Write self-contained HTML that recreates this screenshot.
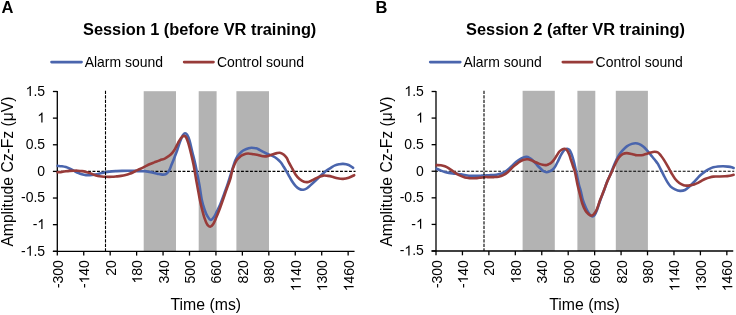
<!DOCTYPE html>
<html><head><meta charset="utf-8"><style>
html,body{margin:0;padding:0;background:#fff;}
svg{display:block;will-change:transform;filter:blur(0.3px);}
</style></head><body>
<svg width="736" height="315" viewBox="0 0 736 315">
<rect width="736" height="315" fill="#fff"/>
<text x="1.6" y="12.7" font-size="16.5" font-weight="bold" font-family="'Liberation Sans', sans-serif">A</text>
<text x="375.4" y="12.8" font-size="16.5" font-weight="bold" font-family="'Liberation Sans', sans-serif">B</text>
<rect x="143.7" y="91.2" width="32.30" height="160.10" fill="#B3B3B3"/>
<rect x="198.7" y="91.2" width="17.90" height="160.10" fill="#B3B3B3"/>
<rect x="236.4" y="91.2" width="32.60" height="160.10" fill="#B3B3B3"/>
<line x1="57.30" y1="91.10" x2="57.30" y2="251.90" stroke="#000" stroke-width="1.3"/>
<line x1="52.90" y1="251.30" x2="354.54" y2="251.30" stroke="#000" stroke-width="1.3"/>
<line x1="52.90" y1="91.50" x2="57.30" y2="91.50" stroke="#000" stroke-width="1.3"/>
<g transform="translate(45.10,95.90)"><path d="M-14.25,0.00 L-15.48,0.00 L-15.48,-7.84 Q-16.25,-7.11 -17.94,-6.36 L-17.94,-7.55 Q-16.18,-8.41 -15.05,-10.02 L-14.25,-10.02 Z" fill="#000"/><text x="-11.68" y="0" font-size="14" font-family="'Liberation Sans', sans-serif">.</text><text x="-7.79" y="0" font-size="14" font-family="'Liberation Sans', sans-serif">5</text></g>
<line x1="52.90" y1="118.13" x2="57.30" y2="118.13" stroke="#000" stroke-width="1.3"/>
<g transform="translate(45.10,122.53)"><path d="M-2.57,0.00 L-3.80,0.00 L-3.80,-7.84 Q-4.57,-7.11 -6.27,-6.36 L-6.27,-7.55 Q-4.50,-8.41 -3.37,-10.02 L-2.57,-10.02 Z" fill="#000"/></g>
<line x1="52.90" y1="144.77" x2="57.30" y2="144.77" stroke="#000" stroke-width="1.3"/>
<g transform="translate(45.10,149.17)"><text x="-19.46" y="0" font-size="14" font-family="'Liberation Sans', sans-serif">0</text><text x="-11.68" y="0" font-size="14" font-family="'Liberation Sans', sans-serif">.</text><text x="-7.79" y="0" font-size="14" font-family="'Liberation Sans', sans-serif">5</text></g>
<line x1="52.90" y1="171.40" x2="57.30" y2="171.40" stroke="#000" stroke-width="1.3"/>
<g transform="translate(45.10,175.80)"><text x="-7.79" y="0" font-size="14" font-family="'Liberation Sans', sans-serif">0</text></g>
<line x1="52.90" y1="198.03" x2="57.30" y2="198.03" stroke="#000" stroke-width="1.3"/>
<g transform="translate(45.10,202.43)"><text x="-24.12" y="0" font-size="14" font-family="'Liberation Sans', sans-serif">-</text><text x="-19.46" y="0" font-size="14" font-family="'Liberation Sans', sans-serif">0</text><text x="-11.68" y="0" font-size="14" font-family="'Liberation Sans', sans-serif">.</text><text x="-7.79" y="0" font-size="14" font-family="'Liberation Sans', sans-serif">5</text></g>
<line x1="52.90" y1="224.67" x2="57.30" y2="224.67" stroke="#000" stroke-width="1.3"/>
<g transform="translate(45.10,229.07)"><text x="-12.45" y="0" font-size="14" font-family="'Liberation Sans', sans-serif">-</text><path d="M-2.57,0.00 L-3.80,0.00 L-3.80,-7.84 Q-4.57,-7.11 -6.27,-6.36 L-6.27,-7.55 Q-4.50,-8.41 -3.37,-10.02 L-2.57,-10.02 Z" fill="#000"/></g>
<line x1="52.90" y1="251.30" x2="57.30" y2="251.30" stroke="#000" stroke-width="1.3"/>
<g transform="translate(45.10,255.70)"><text x="-24.12" y="0" font-size="14" font-family="'Liberation Sans', sans-serif">-</text><path d="M-14.25,0.00 L-15.48,0.00 L-15.48,-7.84 Q-16.25,-7.11 -17.94,-6.36 L-17.94,-7.55 Q-16.18,-8.41 -15.05,-10.02 L-14.25,-10.02 Z" fill="#000"/><text x="-11.68" y="0" font-size="14" font-family="'Liberation Sans', sans-serif">.</text><text x="-7.79" y="0" font-size="14" font-family="'Liberation Sans', sans-serif">5</text></g>
<line x1="57.30" y1="251.30" x2="57.30" y2="255.60" stroke="#000" stroke-width="1.3"/>
<g transform="translate(62.80,260.10) rotate(-90)"><text x="-28.02" y="0" font-size="14" font-family="'Liberation Sans', sans-serif">-</text><text x="-23.36" y="0" font-size="14" font-family="'Liberation Sans', sans-serif">3</text><text x="-15.57" y="0" font-size="14" font-family="'Liberation Sans', sans-serif">0</text><text x="-7.79" y="0" font-size="14" font-family="'Liberation Sans', sans-serif">0</text></g>
<line x1="83.74" y1="251.30" x2="83.74" y2="255.60" stroke="#000" stroke-width="1.3"/>
<g transform="translate(89.24,260.10) rotate(-90)"><text x="-28.02" y="0" font-size="14" font-family="'Liberation Sans', sans-serif">-</text><path d="M-18.14,0.00 L-19.37,0.00 L-19.37,-7.84 Q-20.15,-7.11 -21.84,-6.36 L-21.84,-7.55 Q-20.08,-8.41 -18.94,-10.02 L-18.14,-10.02 Z" fill="#000"/><text x="-15.57" y="0" font-size="14" font-family="'Liberation Sans', sans-serif">4</text><text x="-7.79" y="0" font-size="14" font-family="'Liberation Sans', sans-serif">0</text></g>
<line x1="110.18" y1="251.30" x2="110.18" y2="255.60" stroke="#000" stroke-width="1.3"/>
<g transform="translate(115.68,260.10) rotate(-90)"><text x="-15.57" y="0" font-size="14" font-family="'Liberation Sans', sans-serif">2</text><text x="-7.79" y="0" font-size="14" font-family="'Liberation Sans', sans-serif">0</text></g>
<line x1="136.62" y1="251.30" x2="136.62" y2="255.60" stroke="#000" stroke-width="1.3"/>
<g transform="translate(142.12,260.10) rotate(-90)"><path d="M-18.14,0.00 L-19.37,0.00 L-19.37,-7.84 Q-20.15,-7.11 -21.84,-6.36 L-21.84,-7.55 Q-20.08,-8.41 -18.94,-10.02 L-18.14,-10.02 Z" fill="#000"/><text x="-15.57" y="0" font-size="14" font-family="'Liberation Sans', sans-serif">8</text><text x="-7.79" y="0" font-size="14" font-family="'Liberation Sans', sans-serif">0</text></g>
<line x1="163.06" y1="251.30" x2="163.06" y2="255.60" stroke="#000" stroke-width="1.3"/>
<g transform="translate(168.56,260.10) rotate(-90)"><text x="-23.36" y="0" font-size="14" font-family="'Liberation Sans', sans-serif">3</text><text x="-15.57" y="0" font-size="14" font-family="'Liberation Sans', sans-serif">4</text><text x="-7.79" y="0" font-size="14" font-family="'Liberation Sans', sans-serif">0</text></g>
<line x1="189.50" y1="251.30" x2="189.50" y2="255.60" stroke="#000" stroke-width="1.3"/>
<g transform="translate(195.00,260.10) rotate(-90)"><text x="-23.36" y="0" font-size="14" font-family="'Liberation Sans', sans-serif">5</text><text x="-15.57" y="0" font-size="14" font-family="'Liberation Sans', sans-serif">0</text><text x="-7.79" y="0" font-size="14" font-family="'Liberation Sans', sans-serif">0</text></g>
<line x1="215.94" y1="251.30" x2="215.94" y2="255.60" stroke="#000" stroke-width="1.3"/>
<g transform="translate(221.44,260.10) rotate(-90)"><text x="-23.36" y="0" font-size="14" font-family="'Liberation Sans', sans-serif">6</text><text x="-15.57" y="0" font-size="14" font-family="'Liberation Sans', sans-serif">6</text><text x="-7.79" y="0" font-size="14" font-family="'Liberation Sans', sans-serif">0</text></g>
<line x1="242.38" y1="251.30" x2="242.38" y2="255.60" stroke="#000" stroke-width="1.3"/>
<g transform="translate(247.88,260.10) rotate(-90)"><text x="-23.36" y="0" font-size="14" font-family="'Liberation Sans', sans-serif">8</text><text x="-15.57" y="0" font-size="14" font-family="'Liberation Sans', sans-serif">2</text><text x="-7.79" y="0" font-size="14" font-family="'Liberation Sans', sans-serif">0</text></g>
<line x1="268.82" y1="251.30" x2="268.82" y2="255.60" stroke="#000" stroke-width="1.3"/>
<g transform="translate(274.32,260.10) rotate(-90)"><text x="-23.36" y="0" font-size="14" font-family="'Liberation Sans', sans-serif">9</text><text x="-15.57" y="0" font-size="14" font-family="'Liberation Sans', sans-serif">8</text><text x="-7.79" y="0" font-size="14" font-family="'Liberation Sans', sans-serif">0</text></g>
<line x1="295.26" y1="251.30" x2="295.26" y2="255.60" stroke="#000" stroke-width="1.3"/>
<g transform="translate(300.76,260.10) rotate(-90)"><path d="M-25.93,0.00 L-27.16,0.00 L-27.16,-7.84 Q-27.93,-7.11 -29.63,-6.36 L-29.63,-7.55 Q-27.86,-8.41 -26.73,-10.02 L-25.93,-10.02 Z" fill="#000"/><path d="M-18.14,0.00 L-19.37,0.00 L-19.37,-7.84 Q-20.15,-7.11 -21.84,-6.36 L-21.84,-7.55 Q-20.08,-8.41 -18.94,-10.02 L-18.14,-10.02 Z" fill="#000"/><text x="-15.57" y="0" font-size="14" font-family="'Liberation Sans', sans-serif">4</text><text x="-7.79" y="0" font-size="14" font-family="'Liberation Sans', sans-serif">0</text></g>
<line x1="321.70" y1="251.30" x2="321.70" y2="255.60" stroke="#000" stroke-width="1.3"/>
<g transform="translate(327.20,260.10) rotate(-90)"><path d="M-25.93,0.00 L-27.16,0.00 L-27.16,-7.84 Q-27.93,-7.11 -29.63,-6.36 L-29.63,-7.55 Q-27.86,-8.41 -26.73,-10.02 L-25.93,-10.02 Z" fill="#000"/><text x="-23.36" y="0" font-size="14" font-family="'Liberation Sans', sans-serif">3</text><text x="-15.57" y="0" font-size="14" font-family="'Liberation Sans', sans-serif">0</text><text x="-7.79" y="0" font-size="14" font-family="'Liberation Sans', sans-serif">0</text></g>
<line x1="348.14" y1="251.30" x2="348.14" y2="255.60" stroke="#000" stroke-width="1.3"/>
<g transform="translate(353.64,260.10) rotate(-90)"><path d="M-25.93,0.00 L-27.16,0.00 L-27.16,-7.84 Q-27.93,-7.11 -29.63,-6.36 L-29.63,-7.55 Q-27.86,-8.41 -26.73,-10.02 L-25.93,-10.02 Z" fill="#000"/><text x="-23.36" y="0" font-size="14" font-family="'Liberation Sans', sans-serif">4</text><text x="-15.57" y="0" font-size="14" font-family="'Liberation Sans', sans-serif">6</text><text x="-7.79" y="0" font-size="14" font-family="'Liberation Sans', sans-serif">0</text></g>
<line x1="57.3" y1="171.40" x2="355.54" y2="171.40" stroke="#000" stroke-width="1.1" stroke-dasharray="2.9 1.6" stroke-dashoffset="0.8"/>
<path d="M57.60,165.90 C58.32,165.97 60.52,166.10 61.90,166.30 C63.28,166.50 64.57,166.70 65.90,167.10 C67.23,167.50 68.58,168.10 69.90,168.70 C71.22,169.30 72.48,170.03 73.80,170.70 C75.12,171.37 76.47,172.10 77.80,172.70 C79.13,173.30 80.43,173.90 81.80,174.30 C83.17,174.70 84.65,174.97 86.00,175.10 C87.35,175.23 88.58,175.17 89.90,175.10 C91.22,175.03 92.57,174.90 93.90,174.70 C95.23,174.50 96.58,174.17 97.90,173.90 C99.22,173.63 100.48,173.37 101.80,173.10 C103.12,172.83 104.10,172.58 105.80,172.30 C107.50,172.02 110.18,171.60 112.00,171.40 C113.82,171.20 115.03,171.18 116.70,171.10 C118.37,171.02 120.15,170.95 122.00,170.90 C123.85,170.85 125.63,170.80 127.80,170.80 C129.97,170.80 132.97,170.82 135.00,170.90 C137.03,170.98 138.37,171.27 140.00,171.30 C141.63,171.33 143.22,171.00 144.80,171.10 C146.38,171.20 147.92,171.60 149.50,171.90 C151.08,172.20 152.72,172.53 154.30,172.90 C155.88,173.27 157.63,173.82 159.00,174.10 C160.37,174.38 161.42,174.57 162.50,174.60 C163.58,174.63 164.62,174.67 165.50,174.30 C166.38,173.93 167.13,173.13 167.80,172.40 C168.47,171.67 168.90,171.12 169.50,169.90 C170.10,168.68 170.77,166.68 171.40,165.10 C172.03,163.52 172.67,161.98 173.30,160.40 C173.93,158.82 174.57,157.23 175.20,155.60 C175.83,153.97 176.30,152.90 177.10,150.60 C177.90,148.30 179.03,144.38 180.00,141.80 C180.97,139.22 182.07,136.53 182.90,135.10 C183.73,133.67 184.30,133.27 185.00,133.20 C185.70,133.13 186.35,133.50 187.10,134.70 C187.85,135.90 188.63,137.52 189.50,140.40 C190.37,143.28 191.30,147.90 192.30,152.00 C193.30,156.10 194.32,159.50 195.50,165.00 C196.68,170.50 198.37,179.25 199.40,185.00 C200.43,190.75 200.85,195.42 201.70,199.50 C202.55,203.58 203.55,206.72 204.50,209.50 C205.45,212.28 206.37,214.45 207.40,216.20 C208.43,217.95 209.60,219.85 210.70,220.00 C211.80,220.15 212.97,218.53 214.00,217.10 C215.03,215.67 215.85,213.55 216.90,211.40 C217.95,209.25 219.13,207.00 220.30,204.20 C221.47,201.40 222.72,197.80 223.90,194.60 C225.08,191.40 226.32,188.18 227.40,185.00 C228.48,181.82 229.60,178.03 230.40,175.50 C231.20,172.97 231.62,171.67 232.20,169.80 C232.78,167.93 233.32,166.00 233.90,164.30 C234.48,162.60 235.10,160.93 235.70,159.60 C236.30,158.27 236.57,157.57 237.50,156.30 C238.43,155.03 240.03,153.12 241.30,152.00 C242.57,150.88 243.98,150.18 245.10,149.60 C246.22,149.02 246.95,148.80 248.00,148.50 C249.05,148.20 250.03,147.83 251.40,147.80 C252.77,147.77 255.10,148.10 256.20,148.30 C257.30,148.50 256.90,148.45 258.00,149.00 C259.10,149.55 261.22,150.77 262.80,151.60 C264.38,152.43 265.92,153.28 267.50,154.00 C269.08,154.72 270.72,155.12 272.30,155.90 C273.88,156.68 275.57,157.60 277.00,158.70 C278.43,159.80 279.78,161.15 280.90,162.50 C282.02,163.85 282.75,165.28 283.70,166.80 C284.65,168.32 285.77,170.18 286.60,171.60 C287.43,173.02 287.82,173.73 288.70,175.30 C289.58,176.87 290.73,179.20 291.90,181.00 C293.07,182.80 294.43,184.77 295.70,186.10 C296.97,187.43 298.23,188.40 299.50,189.00 C300.77,189.60 302.12,189.78 303.30,189.70 C304.48,189.62 305.47,189.18 306.60,188.50 C307.73,187.82 308.55,186.97 310.10,185.60 C311.65,184.23 314.07,182.02 315.90,180.30 C317.73,178.58 319.38,176.88 321.10,175.30 C322.82,173.72 324.53,172.08 326.20,170.80 C327.87,169.52 329.63,168.50 331.10,167.60 C332.57,166.70 333.68,165.95 335.00,165.40 C336.32,164.85 337.65,164.55 339.00,164.30 C340.35,164.05 341.48,163.78 343.10,163.90 C344.72,164.02 347.03,164.35 348.70,165.00 C350.37,165.65 352.37,167.33 353.10,167.80" fill="none" stroke="#4A65AD" stroke-width="2.6" stroke-linejoin="round" stroke-linecap="round"/>
<path d="M57.60,172.30 C58.32,172.23 60.52,172.07 61.90,171.90 C63.28,171.73 64.57,171.47 65.90,171.30 C67.23,171.13 68.58,171.00 69.90,170.90 C71.22,170.80 72.48,170.73 73.80,170.70 C75.12,170.67 76.43,170.63 77.80,170.70 C79.17,170.77 80.63,170.90 82.00,171.10 C83.37,171.30 84.68,171.57 86.00,171.90 C87.32,172.23 88.58,172.63 89.90,173.10 C91.22,173.57 92.57,174.23 93.90,174.70 C95.23,175.17 96.58,175.60 97.90,175.90 C99.22,176.20 100.48,176.35 101.80,176.50 C103.12,176.65 104.10,176.75 105.80,176.80 C107.50,176.85 110.18,176.87 112.00,176.80 C113.82,176.73 115.20,176.55 116.70,176.40 C118.20,176.25 119.52,176.13 121.00,175.90 C122.48,175.67 124.18,175.35 125.60,175.00 C127.02,174.65 128.22,174.27 129.50,173.80 C130.78,173.33 132.08,172.77 133.30,172.20 C134.52,171.63 135.68,170.93 136.80,170.40 C137.92,169.87 138.67,169.62 140.00,169.00 C141.33,168.38 143.22,167.48 144.80,166.70 C146.38,165.92 147.92,165.02 149.50,164.30 C151.08,163.58 152.55,163.08 154.30,162.40 C156.05,161.72 158.25,160.83 160.00,160.20 C161.75,159.57 163.22,159.37 164.80,158.60 C166.38,157.83 168.22,156.60 169.50,155.60 C170.78,154.60 171.55,153.77 172.50,152.60 C173.45,151.43 174.27,150.23 175.20,148.60 C176.13,146.97 177.13,144.57 178.10,142.80 C179.07,141.03 180.05,139.15 181.00,138.00 C181.95,136.85 182.93,135.98 183.80,135.90 C184.67,135.82 185.40,136.12 186.20,137.50 C187.00,138.88 187.80,141.53 188.60,144.20 C189.40,146.87 190.17,150.03 191.00,153.50 C191.83,156.97 192.73,160.58 193.60,165.00 C194.47,169.42 195.40,175.50 196.20,180.00 C197.00,184.50 197.72,188.33 198.40,192.00 C199.08,195.67 199.68,199.08 200.30,202.00 C200.92,204.92 201.40,206.82 202.10,209.50 C202.80,212.18 203.62,215.55 204.50,218.10 C205.38,220.65 206.45,223.37 207.40,224.80 C208.35,226.23 209.25,226.78 210.20,226.70 C211.15,226.62 212.13,225.73 213.10,224.30 C214.07,222.87 215.00,220.40 216.00,218.10 C217.00,215.80 218.25,212.68 219.10,210.50 C219.95,208.32 220.18,207.58 221.10,205.00 C222.02,202.42 223.45,198.28 224.60,195.00 C225.75,191.72 227.05,187.97 228.00,185.30 C228.95,182.63 229.60,181.45 230.30,179.00 C231.00,176.55 231.60,172.78 232.20,170.60 C232.80,168.42 233.32,167.33 233.90,165.90 C234.48,164.47 235.10,163.12 235.70,162.00 C236.30,160.88 236.72,160.13 237.50,159.20 C238.28,158.27 239.45,157.15 240.40,156.40 C241.35,155.65 241.93,155.18 243.20,154.70 C244.47,154.22 246.23,153.57 248.00,153.50 C249.77,153.43 252.13,154.07 253.80,154.30 C255.47,154.53 256.50,154.58 258.00,154.90 C259.50,155.22 261.22,156.00 262.80,156.20 C264.38,156.40 265.92,156.40 267.50,156.10 C269.08,155.80 270.72,154.90 272.30,154.40 C273.88,153.90 275.62,153.35 277.00,153.10 C278.38,152.85 279.45,152.62 280.60,152.90 C281.75,153.18 282.87,153.95 283.90,154.80 C284.93,155.65 286.00,156.77 286.80,158.00 C287.60,159.23 287.75,160.37 288.70,162.20 C289.65,164.03 291.33,166.92 292.50,169.00 C293.67,171.08 294.53,173.02 295.70,174.70 C296.87,176.38 298.12,177.93 299.50,179.10 C300.88,180.27 302.52,181.23 304.00,181.70 C305.48,182.17 306.90,182.22 308.40,181.90 C309.90,181.58 311.25,180.63 313.00,179.80 C314.75,178.97 317.18,177.60 318.90,176.90 C320.62,176.20 321.82,175.77 323.30,175.60 C324.78,175.43 326.32,175.72 327.80,175.90 C329.28,176.08 330.57,176.30 332.20,176.70 C333.83,177.10 335.78,177.93 337.60,178.30 C339.42,178.67 341.25,178.98 343.10,178.90 C344.95,178.82 346.85,178.42 348.70,177.80 C350.55,177.18 353.28,175.63 354.20,175.20" fill="none" stroke="#983B39" stroke-width="2.6" stroke-linejoin="round" stroke-linecap="round"/>
<line x1="105.50" y1="90.70" x2="105.50" y2="251.30" stroke="#000" stroke-width="1.1" stroke-dasharray="3.4 1.1"/>
<text transform="translate(13.00,246.60) rotate(-90)" font-size="15.6" font-family="'Liberation Sans', sans-serif" textLength="150.0" lengthAdjust="spacingAndGlyphs">Amplitude Cz-Fz (μV)</text>
<text x="170.50" y="310.4" font-size="15.6" font-family="'Liberation Sans', sans-serif" textLength="70.6" lengthAdjust="spacingAndGlyphs">Time (ms)</text>
<line x1="51.50" y1="62.1" x2="81.60" y2="62.1" stroke="#4A65AD" stroke-width="2.6" stroke-linecap="round"/>
<text x="84.70" y="66.7" font-size="14.6" font-family="'Liberation Sans', sans-serif" textLength="78.4" lengthAdjust="spacingAndGlyphs">Alarm sound</text>
<line x1="184.10" y1="62.1" x2="213.50" y2="62.1" stroke="#983B39" stroke-width="2.6" stroke-linecap="round"/>
<text x="216.90" y="66.7" font-size="14.6" font-family="'Liberation Sans', sans-serif" textLength="87.2" lengthAdjust="spacingAndGlyphs">Control sound</text>
<text x="83.00" y="34.7" font-size="16" font-weight="bold" font-family="'Liberation Sans', sans-serif" textLength="233.30" lengthAdjust="spacingAndGlyphs">Session 1 (before VR training)</text>
<rect x="522.6" y="90.8" width="32.20" height="160.20" fill="#B3B3B3"/>
<rect x="577.4" y="90.8" width="17.90" height="160.20" fill="#B3B3B3"/>
<rect x="615.8" y="90.8" width="32.10" height="160.20" fill="#B3B3B3"/>
<line x1="436.00" y1="91.10" x2="436.00" y2="251.60" stroke="#000" stroke-width="1.3"/>
<line x1="431.60" y1="251.00" x2="733.24" y2="251.00" stroke="#000" stroke-width="1.3"/>
<line x1="431.60" y1="91.50" x2="436.00" y2="91.50" stroke="#000" stroke-width="1.3"/>
<g transform="translate(423.80,95.90)"><path d="M-14.25,0.00 L-15.48,0.00 L-15.48,-7.84 Q-16.25,-7.11 -17.94,-6.36 L-17.94,-7.55 Q-16.18,-8.41 -15.05,-10.02 L-14.25,-10.02 Z" fill="#000"/><text x="-11.68" y="0" font-size="14" font-family="'Liberation Sans', sans-serif">.</text><text x="-7.79" y="0" font-size="14" font-family="'Liberation Sans', sans-serif">5</text></g>
<line x1="431.60" y1="118.08" x2="436.00" y2="118.08" stroke="#000" stroke-width="1.3"/>
<g transform="translate(423.80,122.48)"><path d="M-2.57,0.00 L-3.80,0.00 L-3.80,-7.84 Q-4.57,-7.11 -6.27,-6.36 L-6.27,-7.55 Q-4.50,-8.41 -3.37,-10.02 L-2.57,-10.02 Z" fill="#000"/></g>
<line x1="431.60" y1="144.67" x2="436.00" y2="144.67" stroke="#000" stroke-width="1.3"/>
<g transform="translate(423.80,149.07)"><text x="-19.46" y="0" font-size="14" font-family="'Liberation Sans', sans-serif">0</text><text x="-11.68" y="0" font-size="14" font-family="'Liberation Sans', sans-serif">.</text><text x="-7.79" y="0" font-size="14" font-family="'Liberation Sans', sans-serif">5</text></g>
<line x1="431.60" y1="171.25" x2="436.00" y2="171.25" stroke="#000" stroke-width="1.3"/>
<g transform="translate(423.80,175.65)"><text x="-7.79" y="0" font-size="14" font-family="'Liberation Sans', sans-serif">0</text></g>
<line x1="431.60" y1="197.83" x2="436.00" y2="197.83" stroke="#000" stroke-width="1.3"/>
<g transform="translate(423.80,202.23)"><text x="-24.12" y="0" font-size="14" font-family="'Liberation Sans', sans-serif">-</text><text x="-19.46" y="0" font-size="14" font-family="'Liberation Sans', sans-serif">0</text><text x="-11.68" y="0" font-size="14" font-family="'Liberation Sans', sans-serif">.</text><text x="-7.79" y="0" font-size="14" font-family="'Liberation Sans', sans-serif">5</text></g>
<line x1="431.60" y1="224.42" x2="436.00" y2="224.42" stroke="#000" stroke-width="1.3"/>
<g transform="translate(423.80,228.82)"><text x="-12.45" y="0" font-size="14" font-family="'Liberation Sans', sans-serif">-</text><path d="M-2.57,0.00 L-3.80,0.00 L-3.80,-7.84 Q-4.57,-7.11 -6.27,-6.36 L-6.27,-7.55 Q-4.50,-8.41 -3.37,-10.02 L-2.57,-10.02 Z" fill="#000"/></g>
<line x1="431.60" y1="251.00" x2="436.00" y2="251.00" stroke="#000" stroke-width="1.3"/>
<g transform="translate(423.80,255.40)"><text x="-24.12" y="0" font-size="14" font-family="'Liberation Sans', sans-serif">-</text><path d="M-14.25,0.00 L-15.48,0.00 L-15.48,-7.84 Q-16.25,-7.11 -17.94,-6.36 L-17.94,-7.55 Q-16.18,-8.41 -15.05,-10.02 L-14.25,-10.02 Z" fill="#000"/><text x="-11.68" y="0" font-size="14" font-family="'Liberation Sans', sans-serif">.</text><text x="-7.79" y="0" font-size="14" font-family="'Liberation Sans', sans-serif">5</text></g>
<line x1="436.00" y1="251.00" x2="436.00" y2="255.30" stroke="#000" stroke-width="1.3"/>
<g transform="translate(441.50,260.10) rotate(-90)"><text x="-28.02" y="0" font-size="14" font-family="'Liberation Sans', sans-serif">-</text><text x="-23.36" y="0" font-size="14" font-family="'Liberation Sans', sans-serif">3</text><text x="-15.57" y="0" font-size="14" font-family="'Liberation Sans', sans-serif">0</text><text x="-7.79" y="0" font-size="14" font-family="'Liberation Sans', sans-serif">0</text></g>
<line x1="462.44" y1="251.00" x2="462.44" y2="255.30" stroke="#000" stroke-width="1.3"/>
<g transform="translate(467.94,260.10) rotate(-90)"><text x="-28.02" y="0" font-size="14" font-family="'Liberation Sans', sans-serif">-</text><path d="M-18.14,0.00 L-19.37,0.00 L-19.37,-7.84 Q-20.15,-7.11 -21.84,-6.36 L-21.84,-7.55 Q-20.08,-8.41 -18.94,-10.02 L-18.14,-10.02 Z" fill="#000"/><text x="-15.57" y="0" font-size="14" font-family="'Liberation Sans', sans-serif">4</text><text x="-7.79" y="0" font-size="14" font-family="'Liberation Sans', sans-serif">0</text></g>
<line x1="488.88" y1="251.00" x2="488.88" y2="255.30" stroke="#000" stroke-width="1.3"/>
<g transform="translate(494.38,260.10) rotate(-90)"><text x="-15.57" y="0" font-size="14" font-family="'Liberation Sans', sans-serif">2</text><text x="-7.79" y="0" font-size="14" font-family="'Liberation Sans', sans-serif">0</text></g>
<line x1="515.32" y1="251.00" x2="515.32" y2="255.30" stroke="#000" stroke-width="1.3"/>
<g transform="translate(520.82,260.10) rotate(-90)"><path d="M-18.14,0.00 L-19.37,0.00 L-19.37,-7.84 Q-20.15,-7.11 -21.84,-6.36 L-21.84,-7.55 Q-20.08,-8.41 -18.94,-10.02 L-18.14,-10.02 Z" fill="#000"/><text x="-15.57" y="0" font-size="14" font-family="'Liberation Sans', sans-serif">8</text><text x="-7.79" y="0" font-size="14" font-family="'Liberation Sans', sans-serif">0</text></g>
<line x1="541.76" y1="251.00" x2="541.76" y2="255.30" stroke="#000" stroke-width="1.3"/>
<g transform="translate(547.26,260.10) rotate(-90)"><text x="-23.36" y="0" font-size="14" font-family="'Liberation Sans', sans-serif">3</text><text x="-15.57" y="0" font-size="14" font-family="'Liberation Sans', sans-serif">4</text><text x="-7.79" y="0" font-size="14" font-family="'Liberation Sans', sans-serif">0</text></g>
<line x1="568.20" y1="251.00" x2="568.20" y2="255.30" stroke="#000" stroke-width="1.3"/>
<g transform="translate(573.70,260.10) rotate(-90)"><text x="-23.36" y="0" font-size="14" font-family="'Liberation Sans', sans-serif">5</text><text x="-15.57" y="0" font-size="14" font-family="'Liberation Sans', sans-serif">0</text><text x="-7.79" y="0" font-size="14" font-family="'Liberation Sans', sans-serif">0</text></g>
<line x1="594.64" y1="251.00" x2="594.64" y2="255.30" stroke="#000" stroke-width="1.3"/>
<g transform="translate(600.14,260.10) rotate(-90)"><text x="-23.36" y="0" font-size="14" font-family="'Liberation Sans', sans-serif">6</text><text x="-15.57" y="0" font-size="14" font-family="'Liberation Sans', sans-serif">6</text><text x="-7.79" y="0" font-size="14" font-family="'Liberation Sans', sans-serif">0</text></g>
<line x1="621.08" y1="251.00" x2="621.08" y2="255.30" stroke="#000" stroke-width="1.3"/>
<g transform="translate(626.58,260.10) rotate(-90)"><text x="-23.36" y="0" font-size="14" font-family="'Liberation Sans', sans-serif">8</text><text x="-15.57" y="0" font-size="14" font-family="'Liberation Sans', sans-serif">2</text><text x="-7.79" y="0" font-size="14" font-family="'Liberation Sans', sans-serif">0</text></g>
<line x1="647.52" y1="251.00" x2="647.52" y2="255.30" stroke="#000" stroke-width="1.3"/>
<g transform="translate(653.02,260.10) rotate(-90)"><text x="-23.36" y="0" font-size="14" font-family="'Liberation Sans', sans-serif">9</text><text x="-15.57" y="0" font-size="14" font-family="'Liberation Sans', sans-serif">8</text><text x="-7.79" y="0" font-size="14" font-family="'Liberation Sans', sans-serif">0</text></g>
<line x1="673.96" y1="251.00" x2="673.96" y2="255.30" stroke="#000" stroke-width="1.3"/>
<g transform="translate(679.46,260.10) rotate(-90)"><path d="M-25.93,0.00 L-27.16,0.00 L-27.16,-7.84 Q-27.93,-7.11 -29.63,-6.36 L-29.63,-7.55 Q-27.86,-8.41 -26.73,-10.02 L-25.93,-10.02 Z" fill="#000"/><path d="M-18.14,0.00 L-19.37,0.00 L-19.37,-7.84 Q-20.15,-7.11 -21.84,-6.36 L-21.84,-7.55 Q-20.08,-8.41 -18.94,-10.02 L-18.14,-10.02 Z" fill="#000"/><text x="-15.57" y="0" font-size="14" font-family="'Liberation Sans', sans-serif">4</text><text x="-7.79" y="0" font-size="14" font-family="'Liberation Sans', sans-serif">0</text></g>
<line x1="700.40" y1="251.00" x2="700.40" y2="255.30" stroke="#000" stroke-width="1.3"/>
<g transform="translate(705.90,260.10) rotate(-90)"><path d="M-25.93,0.00 L-27.16,0.00 L-27.16,-7.84 Q-27.93,-7.11 -29.63,-6.36 L-29.63,-7.55 Q-27.86,-8.41 -26.73,-10.02 L-25.93,-10.02 Z" fill="#000"/><text x="-23.36" y="0" font-size="14" font-family="'Liberation Sans', sans-serif">3</text><text x="-15.57" y="0" font-size="14" font-family="'Liberation Sans', sans-serif">0</text><text x="-7.79" y="0" font-size="14" font-family="'Liberation Sans', sans-serif">0</text></g>
<line x1="726.84" y1="251.00" x2="726.84" y2="255.30" stroke="#000" stroke-width="1.3"/>
<g transform="translate(732.34,260.10) rotate(-90)"><path d="M-25.93,0.00 L-27.16,0.00 L-27.16,-7.84 Q-27.93,-7.11 -29.63,-6.36 L-29.63,-7.55 Q-27.86,-8.41 -26.73,-10.02 L-25.93,-10.02 Z" fill="#000"/><text x="-23.36" y="0" font-size="14" font-family="'Liberation Sans', sans-serif">4</text><text x="-15.57" y="0" font-size="14" font-family="'Liberation Sans', sans-serif">6</text><text x="-7.79" y="0" font-size="14" font-family="'Liberation Sans', sans-serif">0</text></g>
<line x1="436.0" y1="171.25" x2="734.24" y2="171.25" stroke="#000" stroke-width="1.1" stroke-dasharray="2.9 1.6" stroke-dashoffset="0.8"/>
<path d="M436.60,168.70 C437.32,169.02 439.52,170.05 440.90,170.60 C442.28,171.15 443.57,171.62 444.90,172.00 C446.23,172.38 447.58,172.65 448.90,172.90 C450.22,173.15 451.48,173.33 452.80,173.50 C454.12,173.67 455.43,173.77 456.80,173.90 C458.17,174.03 459.63,174.10 461.00,174.30 C462.37,174.50 463.68,174.87 465.00,175.10 C466.32,175.33 467.58,175.57 468.90,175.70 C470.22,175.83 471.57,175.87 472.90,175.90 C474.23,175.93 475.58,175.93 476.90,175.90 C478.22,175.87 479.48,175.77 480.80,175.70 C482.12,175.63 483.43,175.58 484.80,175.50 C486.17,175.42 487.50,175.28 489.00,175.20 C490.50,175.12 492.22,175.15 493.80,175.00 C495.38,174.85 496.92,174.65 498.50,174.30 C500.08,173.95 501.72,173.70 503.30,172.90 C504.88,172.10 506.42,170.78 508.00,169.50 C509.58,168.22 511.47,166.43 512.80,165.20 C514.13,163.97 514.83,163.08 516.00,162.10 C517.17,161.12 518.53,160.08 519.80,159.30 C521.07,158.52 522.48,157.80 523.60,157.40 C524.72,157.00 525.55,156.82 526.50,156.90 C527.45,156.98 528.20,157.27 529.30,157.90 C530.40,158.53 531.82,159.52 533.10,160.70 C534.38,161.88 535.72,163.65 537.00,165.00 C538.28,166.35 539.72,167.77 540.80,168.80 C541.88,169.83 542.58,170.63 543.50,171.20 C544.42,171.77 545.27,172.17 546.30,172.20 C547.33,172.23 548.62,171.85 549.70,171.40 C550.78,170.95 551.82,170.43 552.80,169.50 C553.78,168.57 554.65,167.37 555.60,165.80 C556.55,164.23 557.55,162.00 558.50,160.10 C559.45,158.20 560.35,156.07 561.30,154.40 C562.25,152.73 563.25,151.05 564.20,150.10 C565.15,149.15 566.13,148.75 567.00,148.70 C567.87,148.65 568.65,148.92 569.40,149.80 C570.15,150.68 570.90,152.55 571.50,154.00 C572.10,155.45 572.50,156.80 573.00,158.50 C573.50,160.20 573.98,162.05 574.50,164.20 C575.02,166.35 575.62,169.13 576.10,171.40 C576.58,173.67 576.92,175.53 577.40,177.80 C577.88,180.07 578.40,182.63 579.00,185.00 C579.60,187.37 580.33,189.42 581.00,192.00 C581.67,194.58 582.17,197.83 583.00,200.50 C583.83,203.17 585.00,205.83 586.00,208.00 C587.00,210.17 588.03,212.12 589.00,213.50 C589.97,214.88 590.88,216.02 591.80,216.30 C592.72,216.58 593.63,216.25 594.50,215.20 C595.37,214.15 596.08,212.37 597.00,210.00 C597.92,207.63 598.87,204.17 600.00,201.00 C601.13,197.83 602.63,194.17 603.80,191.00 C604.97,187.83 605.88,184.78 607.00,182.00 C608.12,179.22 609.45,176.82 610.50,174.30 C611.55,171.78 612.35,169.25 613.30,166.90 C614.25,164.55 615.25,162.18 616.20,160.20 C617.15,158.22 617.93,156.63 619.00,155.00 C620.07,153.37 621.30,151.83 622.60,150.40 C623.90,148.97 625.27,147.48 626.80,146.40 C628.33,145.32 630.33,144.43 631.80,143.90 C633.27,143.37 634.33,143.17 635.60,143.20 C636.87,143.23 638.13,143.55 639.40,144.10 C640.67,144.65 641.93,145.47 643.20,146.50 C644.47,147.53 645.72,148.87 647.00,150.30 C648.28,151.73 649.60,153.52 650.90,155.10 C652.20,156.68 653.63,158.33 654.80,159.80 C655.97,161.27 656.92,162.30 657.90,163.90 C658.88,165.50 659.75,167.53 660.70,169.40 C661.65,171.27 662.53,173.07 663.60,175.10 C664.67,177.13 665.92,179.68 667.10,181.60 C668.28,183.52 669.38,185.30 670.70,186.60 C672.02,187.90 673.45,188.68 675.00,189.40 C676.55,190.12 678.33,190.80 680.00,190.90 C681.67,191.00 683.38,190.77 685.00,190.00 C686.62,189.23 688.18,187.65 689.70,186.30 C691.22,184.95 692.72,183.35 694.10,181.90 C695.48,180.45 696.72,178.90 698.00,177.60 C699.28,176.30 700.53,175.18 701.80,174.10 C703.07,173.02 704.32,171.98 705.60,171.10 C706.88,170.22 708.22,169.43 709.50,168.80 C710.78,168.17 711.88,167.68 713.30,167.30 C714.72,166.92 716.37,166.68 718.00,166.50 C719.63,166.32 721.45,166.18 723.10,166.20 C724.75,166.22 726.47,166.43 727.90,166.60 C729.33,166.77 730.75,166.97 731.70,167.20 C732.65,167.43 733.28,167.87 733.60,168.00" fill="none" stroke="#4A65AD" stroke-width="2.6" stroke-linejoin="round" stroke-linecap="round"/>
<path d="M436.60,165.10 C437.32,165.13 439.52,165.10 440.90,165.30 C442.28,165.50 443.57,165.80 444.90,166.30 C446.23,166.80 447.58,167.50 448.90,168.30 C450.22,169.10 451.48,170.17 452.80,171.10 C454.12,172.03 455.47,173.10 456.80,173.90 C458.13,174.70 459.43,175.30 460.80,175.90 C462.17,176.50 463.65,177.13 465.00,177.50 C466.35,177.87 467.58,177.97 468.90,178.10 C470.22,178.23 471.57,178.30 472.90,178.30 C474.23,178.30 475.58,178.22 476.90,178.10 C478.22,177.98 479.48,177.77 480.80,177.60 C482.12,177.43 483.43,177.18 484.80,177.10 C486.17,177.02 487.50,177.10 489.00,177.10 C490.50,177.10 492.22,177.17 493.80,177.10 C495.38,177.03 496.92,177.02 498.50,176.70 C500.08,176.38 501.72,176.00 503.30,175.20 C504.88,174.40 506.42,173.25 508.00,171.90 C509.58,170.55 511.47,168.33 512.80,167.10 C514.13,165.87 514.83,165.40 516.00,164.50 C517.17,163.60 518.53,162.48 519.80,161.70 C521.07,160.92 522.33,160.20 523.60,159.80 C524.87,159.40 526.13,159.23 527.40,159.30 C528.67,159.37 529.93,159.75 531.20,160.20 C532.47,160.65 533.72,161.43 535.00,162.00 C536.28,162.57 537.62,163.13 538.90,163.60 C540.18,164.07 541.52,164.55 542.70,164.80 C543.88,165.05 545.03,165.18 546.00,165.10 C546.97,165.02 547.68,164.65 548.50,164.30 C549.32,163.95 550.03,163.70 550.90,163.00 C551.77,162.30 552.75,161.30 553.70,160.10 C554.65,158.90 555.65,157.23 556.60,155.80 C557.55,154.37 558.45,152.58 559.40,151.50 C560.35,150.42 561.42,149.75 562.30,149.30 C563.18,148.85 563.92,148.65 564.70,148.80 C565.48,148.95 566.25,149.25 567.00,150.20 C567.75,151.15 568.53,152.87 569.20,154.50 C569.87,156.13 570.38,158.12 571.00,160.00 C571.62,161.88 572.27,163.90 572.90,165.80 C573.53,167.70 574.25,169.37 574.80,171.40 C575.35,173.43 575.72,175.65 576.20,178.00 C576.68,180.35 577.10,182.83 577.70,185.50 C578.30,188.17 579.03,191.00 579.80,194.00 C580.57,197.00 581.37,200.75 582.30,203.50 C583.23,206.25 584.35,208.70 585.40,210.50 C586.45,212.30 587.63,213.45 588.60,214.30 C589.57,215.15 590.35,215.60 591.20,215.60 C592.05,215.60 592.75,215.37 593.70,214.30 C594.65,213.23 595.85,211.53 596.90,209.20 C597.95,206.87 598.82,203.47 600.00,200.30 C601.18,197.13 602.78,193.33 604.00,190.20 C605.22,187.07 606.15,184.27 607.30,181.50 C608.45,178.73 609.90,175.80 610.90,173.60 C611.90,171.40 612.42,170.22 613.30,168.30 C614.18,166.38 615.25,163.92 616.20,162.10 C617.15,160.28 617.93,158.72 619.00,157.40 C620.07,156.08 621.30,154.92 622.60,154.20 C623.90,153.48 625.27,153.12 626.80,153.10 C628.33,153.08 630.33,153.77 631.80,154.10 C633.27,154.43 634.33,154.90 635.60,155.10 C636.87,155.30 638.13,155.33 639.40,155.30 C640.67,155.27 641.93,155.17 643.20,154.90 C644.47,154.63 645.72,154.12 647.00,153.70 C648.28,153.28 649.62,152.72 650.90,152.40 C652.18,152.08 653.52,151.78 654.70,151.80 C655.88,151.82 656.98,151.88 658.00,152.50 C659.02,153.12 659.87,154.35 660.80,155.50 C661.73,156.65 662.42,157.55 663.60,159.40 C664.78,161.25 666.60,164.33 667.90,166.60 C669.20,168.87 670.22,170.98 671.40,173.00 C672.58,175.02 673.68,177.03 675.00,178.70 C676.32,180.37 677.87,181.92 679.30,183.00 C680.73,184.08 682.40,184.77 683.60,185.20 C684.80,185.63 685.48,185.57 686.50,185.60 C687.52,185.63 688.43,185.60 689.70,185.40 C690.97,185.20 692.72,184.82 694.10,184.40 C695.48,183.98 696.72,183.53 698.00,182.90 C699.28,182.27 700.53,181.30 701.80,180.60 C703.07,179.90 704.32,179.23 705.60,178.70 C706.88,178.17 708.22,177.75 709.50,177.40 C710.78,177.05 711.88,176.75 713.30,176.60 C714.72,176.45 716.05,176.55 718.00,176.50 C719.95,176.45 723.03,176.43 725.00,176.30 C726.97,176.17 728.37,175.95 729.80,175.70 C731.23,175.45 732.97,174.95 733.60,174.80" fill="none" stroke="#983B39" stroke-width="2.6" stroke-linejoin="round" stroke-linecap="round"/>
<line x1="484.00" y1="90.70" x2="484.00" y2="251.00" stroke="#000" stroke-width="1.1" stroke-dasharray="3.4 1.1"/>
<text transform="translate(391.70,246.60) rotate(-90)" font-size="15.6" font-family="'Liberation Sans', sans-serif" textLength="150.0" lengthAdjust="spacingAndGlyphs">Amplitude Cz-Fz (μV)</text>
<text x="549.20" y="310.4" font-size="15.6" font-family="'Liberation Sans', sans-serif" textLength="70.6" lengthAdjust="spacingAndGlyphs">Time (ms)</text>
<line x1="430.20" y1="62.1" x2="460.30" y2="62.1" stroke="#4A65AD" stroke-width="2.6" stroke-linecap="round"/>
<text x="463.40" y="66.7" font-size="14.6" font-family="'Liberation Sans', sans-serif" textLength="78.4" lengthAdjust="spacingAndGlyphs">Alarm sound</text>
<line x1="562.80" y1="62.1" x2="592.20" y2="62.1" stroke="#983B39" stroke-width="2.6" stroke-linecap="round"/>
<text x="595.60" y="66.7" font-size="14.6" font-family="'Liberation Sans', sans-serif" textLength="87.2" lengthAdjust="spacingAndGlyphs">Control sound</text>
<text x="466.10" y="34.7" font-size="16" font-weight="bold" font-family="'Liberation Sans', sans-serif" textLength="218.90" lengthAdjust="spacingAndGlyphs">Session 2 (after VR training)</text>
</svg>
</body></html>
